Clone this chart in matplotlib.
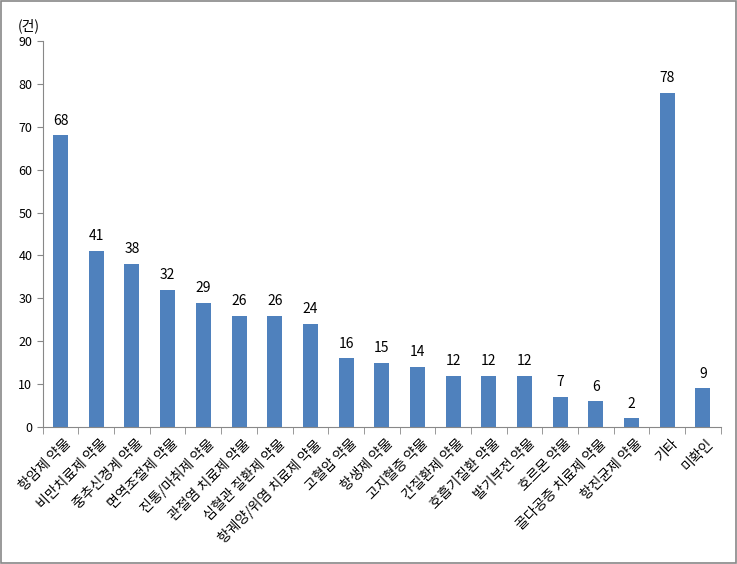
import numpy as np
import matplotlib
matplotlib.use("Agg")
import matplotlib.pyplot as plt

plt.rcParams['font.family'] = ['Noto Sans CJK KR', 'DejaVu Sans']

labels = ["항암제 약물", "비만치료제 약물", "중추신경계 약물", "면역조절제 약물",
          "진통/마취제 약물", "관절염 치료제 약물", "심혈관 질환제 약물",
          "항궤양/위염 치료제 약물", "고혈압 약물", "항생제 약물", "고지혈증 약물",
          "간질환제 약물", "호흡기질환 약물", "발기부전 약물", "호르몬 약물",
          "골다공증 치료제 약물", "항진균제 약물", "기타", "미확인"]
counts = [68, 41, 38, 32, 29, 26, 26, 24, 16, 15, 14, 12, 12, 12, 7, 6, 2, 78, 9]

fig = plt.figure(figsize=(7.37, 5.64), dpi=100)
fig.patches.append(plt.Rectangle((0.001, 0.001), 0.997, 0.997, transform=fig.transFigure,
                                 fill=False, edgecolor="#888888", linewidth=1.2))
ax = fig.add_axes([0.058, 0.243, 0.92, 0.684])

x = np.arange(len(labels))
bars = ax.bar(x, counts, width=0.42, color="#4F81BD")
for xi, v in zip(x, counts):
    ax.text(xi, v + 1.8, str(v), ha="center", va="bottom", fontsize=10)

ax.set_xlim(-0.5, len(labels) - 0.5)
ax.set_ylim(0, 90)
ax.set_yticks(range(0, 91, 10))
ax.tick_params(axis="y", labelsize=9, length=4, color="#888888")
ax.set_xticks(x + 0.1)
ax.set_xticklabels(labels, rotation=45, ha="right", rotation_mode="anchor", fontsize=10)
ax.tick_params(axis="x", length=0, pad=7)
ax.set_xticks(np.arange(-0.5, len(labels), 1), minor=True)
ax.tick_params(axis="x", which="minor", length=5, color="#888888")
for s in ["top", "right"]:
    ax.spines[s].set_visible(False)
for s in ["left", "bottom"]:
    ax.spines[s].set_color("#888888")
ax.text(-0.02, 1.02, "(건)", transform=ax.transAxes, ha="center", va="bottom", fontsize=10)

fig.savefig("out.png", dpi=100)
